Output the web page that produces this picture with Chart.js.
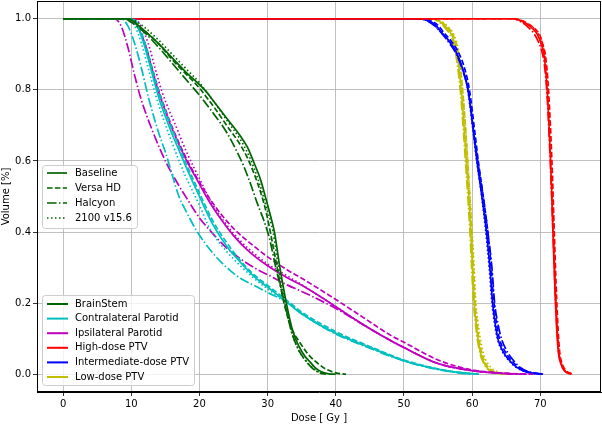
<!DOCTYPE html>
<html>
<head>
<meta charset="utf-8">
<script src="https://cdn.jsdelivr.net/npm/chart.js@4.4.0/dist/chart.umd.min.js"></script>
<style>
  html, body { margin: 0; padding: 0; background: #fff; }
  #wrap { width: 602px; height: 424px; }
</style>
</head>
<body>
<div id="wrap"><canvas id="dvh" width="602" height="424"></canvas></div>
<script>
// Axes
const xTicks = [0, 10, 20, 30, 40, 50, 60, 70];
const yTicks = [0.0, 0.2, 0.4, 0.6, 0.8, 1.0];

// Structures and machines (legend order)
const structures = ['BrainStem', 'Contralateral Parotid', 'Ipsilateral Parotid', 'High-dose PTV', 'Intermediate-dose PTV', 'Low-dose PTV'];
const machines = ['Baseline', 'Versa HD', 'Halcyon', '2100 v15.6'];

// DVH points [dose Gy, volume fraction]
// BrainStem
const bsBase = [[0,1],[9.5,1],[10.5,0.99],[12,0.965],[14,0.93],[16,0.89],[18,0.85],[20,0.815],[21,0.795],[22,0.77],[24,0.72],[26,0.67],[27,0.64],[28,0.595],[29,0.545],[29.8,0.49],[30.5,0.44],[31,0.40],[31.8,0.30],[32.75,0.2],[33.7,0.12],[34.7,0.075],[35.5,0.05],[36.2,0.035],[37,0.018],[38,0.006],[39,0.001],[40,0]];
const bsVersa = [[0,1],[9.5,1],[10.5,0.99],[12,0.965],[14,0.93],[16,0.885],[18,0.845],[20,0.805],[21,0.78],[22,0.755],[24,0.70],[26,0.645],[27,0.61],[28,0.565],[29,0.51],[29.8,0.455],[30.6,0.38],[31.4,0.30],[32.4,0.2],[33.5,0.13],[34.7,0.09],[36,0.055],[37.4,0.03],[38.5,0.015],[40,0.004],[41.5,0]];
const bsHalcyon = [[0,1],[9,1],[10,0.99],[12,0.96],[14,0.92],[16,0.875],[18,0.83],[20,0.785],[21,0.76],[22,0.735],[24,0.68],[25.4,0.63],[26.5,0.585],[27.5,0.535],[28.5,0.48],[29.5,0.43],[30.3,0.38],[31.2,0.3],[32.5,0.2],[33.5,0.12],[34.5,0.07],[35.5,0.04],[36.5,0.018],[37.5,0.005],[38.5,0]];
const bs2100 = [[0,1],[9.5,1],[10.5,0.995],[12,0.975],[14,0.94],[16,0.9],[18,0.86],[20,0.82],[21,0.795],[22,0.77],[24,0.715],[26,0.66],[27,0.625],[28,0.58],[29,0.525],[29.8,0.47],[30.8,0.40],[31.6,0.30],[32.6,0.2],[33.5,0.12],[34.5,0.07],[35.5,0.04],[36.5,0.02],[37.5,0.006],[38.5,0]];
// Contralateral Parotid
const cpBase = [[0,1],[10,1],[11,0.975],[12,0.92],[13,0.85],[14,0.78],[15,0.725],[16,0.675],[17,0.63],[18,0.585],[20,0.5],[22,0.42],[24,0.36],[26,0.315],[28,0.275],[30,0.245],[33,0.2],[35,0.17],[40,0.115],[45,0.075],[50,0.038],[55,0.014],[58,0.005],[61,0]];
const cpVersa = [[0,1],[10.2,1],[11.2,0.975],[12.2,0.92],[13.2,0.85],[14.2,0.785],[15.2,0.73],[16.2,0.68],[18,0.595],[20,0.51],[22,0.43],[24,0.37],[26,0.32],[28,0.28],[30,0.25],[33,0.205],[35,0.175],[40,0.12],[45,0.078],[50,0.04],[55,0.015],[58,0.005],[61,0]];
const cpHalcyon = [[0,1],[8.5,1],[9.5,0.98],[10.5,0.93],[11.5,0.86],[12.5,0.78],[14,0.68],[15,0.625],[17,0.5],[18,0.46],[19.7,0.40],[22,0.34],[24,0.3],[26,0.27],[28,0.25],[30,0.23],[33,0.2],[35,0.17],[40,0.113],[45,0.073],[50,0.037],[55,0.013],[58,0.004],[60,0]];
const cp2100 = [[0,1],[9.5,1],[10.5,0.98],[11.5,0.93],[12.5,0.86],[13.5,0.79],[14.5,0.73],[16,0.65],[18,0.555],[19,0.515],[20,0.475],[21.5,0.41],[24,0.345],[26,0.305],[28,0.27],[30,0.24],[33,0.2],[35,0.17],[40,0.115],[45,0.076],[50,0.038],[55,0.014],[58,0.005],[61,0]];
// Ipsilateral Parotid
const ipBase = [[0,1],[10,1],[11,0.975],[12,0.93],[13,0.86],[14,0.795],[15,0.74],[16,0.69],[18,0.605],[20,0.535],[21.3,0.49],[23,0.44],[25,0.39],[27,0.35],[30,0.305],[33,0.27],[35,0.25],[38,0.215],[40,0.19],[44,0.14],[48,0.095],[50,0.075],[55,0.03],[60,0.01],[65,0.002],[68,0]];
const ipVersa = [[0,1],[10,1],[11,0.975],[12,0.93],[13,0.865],[14,0.8],[15,0.745],[16,0.695],[18,0.61],[20,0.54],[22,0.48],[25,0.41],[28,0.36],[30,0.33],[33,0.292],[35,0.27],[40,0.21],[44,0.16],[48,0.11],[50,0.09],[55,0.04],[60,0.012],[65,0.003],[69,0]];
const ipHalcyon = [[0,1],[7.5,1],[8.5,0.98],[9.5,0.92],[10.5,0.84],[11.5,0.77],[13,0.69],[15,0.6],[17,0.53],[18.3,0.49],[20,0.44],[22,0.395],[24,0.355],[26,0.325],[28,0.3],[30,0.28],[33,0.25],[35,0.233],[40,0.185],[45,0.128],[50,0.075],[55,0.03],[60,0.01],[66,0]];
const ip2100 = [[0,1],[10.5,1],[11.5,0.975],[12.5,0.93],[13.5,0.86],[14.5,0.795],[15.5,0.745],[16.5,0.7],[18,0.63],[20,0.55],[22,0.475],[24,0.42],[26,0.375],[28,0.34],[30,0.31],[33,0.275],[35,0.252],[38,0.215],[40,0.19],[44,0.14],[48,0.095],[50,0.075],[55,0.03],[60,0.01],[65,0.002],[68,0]];
// High-dose PTV
const hdBase = [[0,1],[66,1],[67,0.995],[68,0.985],[69,0.97],[69.6,0.955],[70.2,0.925],[70.6,0.89],[71,0.8],[71.5,0.6],[71.85,0.4],[72.2,0.21],[72.6,0.07],[73,0.03],[73.5,0.01],[74.5,0]];
const hdVersa = [[0,1],[66.3,1],[67.3,0.995],[68.3,0.985],[69.3,0.97],[69.9,0.955],[70.4,0.925],[70.8,0.89],[71.2,0.8],[71.7,0.6],[72.05,0.4],[72.4,0.21],[72.8,0.07],[73.2,0.03],[73.8,0.01],[74.8,0]];
const hdHalcyon = [[0,1],[66,1],[67,0.993],[68,0.98],[69,0.96],[69.6,0.94],[70.2,0.91],[70.6,0.87],[71,0.78],[71.5,0.58],[71.9,0.38],[72.25,0.2],[72.65,0.07],[73.1,0.03],[73.6,0.01],[74.6,0]];
const hd2100 = [[0,1],[66.2,1],[67.2,0.995],[68.2,0.985],[69.2,0.97],[69.8,0.955],[70.3,0.93],[70.7,0.89],[71.1,0.8],[71.6,0.6],[71.95,0.4],[72.3,0.21],[72.7,0.07],[73.1,0.03],[73.6,0.01],[74.6,0]];
// Intermediate-dose PTV
const idBase = [[0,1],[52.5,1],[53.5,0.995],[54.5,0.985],[55.7,0.958],[56.7,0.935],[57.7,0.905],[58.6,0.86],[59.4,0.8],[60.2,0.68],[60.7,0.6],[61.5,0.49],[62.1,0.4],[62.6,0.3],[63,0.2],[63.4,0.14],[63.8,0.098],[64.5,0.065],[65.2,0.045],[66.5,0.02],[68,0.006],[70,0]];
const idVersa = [[0,1],[52.8,1],[53.8,0.995],[54.8,0.985],[56,0.958],[57,0.935],[58,0.905],[58.9,0.86],[59.6,0.8],[60.4,0.68],[60.9,0.6],[61.7,0.49],[62.3,0.4],[62.8,0.3],[63.2,0.2],[63.6,0.14],[64,0.1],[64.8,0.065],[65.5,0.045],[66.8,0.02],[68.3,0.006],[70.3,0]];
const idHalcyon = [[0,1],[52.5,1],[53.5,0.993],[54.5,0.98],[55.7,0.955],[56.7,0.93],[57.7,0.9],[58.6,0.855],[59.5,0.79],[60.3,0.67],[60.9,0.59],[61.7,0.49],[62.3,0.4],[62.9,0.3],[63.3,0.2],[63.8,0.14],[64.3,0.1],[65.1,0.065],[65.8,0.045],[67,0.02],[68.5,0.006],[70.5,0]];
const id2100 = [[0,1],[52.3,1],[53.3,0.995],[54.3,0.985],[55.5,0.96],[56.5,0.94],[57.5,0.91],[58.5,0.865],[59.3,0.805],[60.1,0.69],[60.6,0.61],[61.4,0.5],[62,0.4],[62.5,0.3],[62.9,0.2],[63.3,0.14],[63.7,0.1],[64.4,0.065],[65.1,0.045],[66.4,0.02],[67.9,0.006],[69.8,0]];
// Low-dose PTV
const ldBase = [[0,1],[54,1],[55,0.995],[56,0.98],[57,0.955],[57.7,0.91],[58.4,0.8],[58.8,0.7],[59.15,0.6],[59.5,0.5],[59.8,0.4],[60.05,0.3],[60.3,0.2],[60.6,0.14],[60.85,0.1],[61.3,0.055],[61.8,0.03],[62.5,0.012],[64,0.002],[65,0]];
const ldVersa = [[0,1],[54.2,1],[55.2,0.995],[56.2,0.98],[57.2,0.955],[57.9,0.91],[58.6,0.8],[59,0.7],[59.35,0.6],[59.65,0.5],[59.95,0.4],[60.2,0.3],[60.45,0.2],[60.75,0.14],[61,0.1],[61.5,0.055],[62,0.03],[62.8,0.012],[64.3,0.002],[65.5,0]];
const ldHalcyon = [[0,1],[54,1],[55,0.993],[56,0.975],[57,0.945],[57.6,0.9],[58.3,0.79],[58.7,0.69],[59.05,0.59],[59.4,0.49],[59.7,0.39],[59.95,0.29],[60.2,0.2],[60.5,0.14],[60.75,0.1],[61.2,0.055],[61.7,0.03],[62.4,0.012],[63.8,0.002],[64.8,0]];
const ld2100 = [[0,1],[54.3,1],[55.3,0.995],[56.3,0.98],[57.3,0.955],[58,0.91],[58.6,0.8],[59,0.7],[59.35,0.6],[59.7,0.5],[60,0.4],[60.3,0.3],[60.55,0.2],[60.9,0.14],[61.2,0.1],[61.7,0.055],[62.3,0.03],[63.2,0.012],[65,0.002],[66.5,0]];

const curves = [
    [bsBase, bsVersa, bsHalcyon, bs2100],
    [cpBase, cpVersa, cpHalcyon, cp2100],
    [ipBase, ipVersa, ipHalcyon, ip2100],
    [hdBase, hdVersa, hdHalcyon, hd2100],
    [idBase, idVersa, idHalcyon, id2100],
    [ldBase, ldVersa, ldHalcyon, ld2100]
];

const colors = ['#006400', '#00bfbf', '#bf00bf', '#ff0000', '#0000ff', '#bfbf00'];
const dashes = [[], [5.5, 2.4], [9.6, 2.4, 1.5, 2.4], [1.5, 2.5]];

const font = { family: 'DejaVu Sans', size: 10 };

// Build datasets
const datasets = [];
curves.forEach((set, s) => {
    set.forEach((pts, m) => {
        datasets.push({
            label: structures[s] + ' ' + machines[m],
            data: pts.map(p => ({ x: p[0], y: p[1] })),
            borderColor: colors[s],
            borderWidth: 1.7,
            borderDash: dashes[m],
            pointRadius: 0,
            showLine: true,
            fill: false,
            cubicInterpolationMode: 'monotone'
        });
    });
});

// Two matplotlib-like legend boxes + top/right spines
const legendBoxes = {
    id: 'legendBoxes',
    afterDraw(chart) {
        const ctx = chart.ctx;
        const a = chart.chartArea;
        ctx.save();
        ctx.strokeStyle = '#000';
        ctx.lineWidth = 1;
        ctx.strokeRect(a.left + 0.5, a.top + 0.5, a.right - a.left - 1, a.bottom - a.top - 1);

        function box(x, y, w, h) {
            ctx.beginPath();
            ctx.roundRect(x + 0.5, y + 0.5, w, h, 3);
            ctx.fillStyle = 'rgba(255,255,255,0.8)';
            ctx.fill();
            ctx.strokeStyle = '#cccccc';
            ctx.lineWidth = 1;
            ctx.stroke();
        }
        ctx.font = '10px "DejaVu Sans"';
        ctx.textBaseline = 'middle';

        // Line style legend
        box(42, 165, 95, 63);
        machines.forEach((name, i) => {
            const y = 173 + i * 15;
            ctx.beginPath();
            ctx.setLineDash(dashes[i]);
            ctx.strokeStyle = colors[0];
            ctx.lineWidth = 1.7;
            ctx.moveTo(47, y);
            ctx.lineTo(67, y);
            ctx.stroke();
            ctx.setLineDash([]);
            ctx.fillStyle = '#000';
            ctx.fillText(name, 75, y);
        });

        // Structure legend
        box(42, 295, 152, 90);
        structures.forEach((name, i) => {
            const y = 304 + i * 14.6;
            ctx.beginPath();
            ctx.strokeStyle = colors[i];
            ctx.lineWidth = 2;
            ctx.moveTo(47, y);
            ctx.lineTo(68, y);
            ctx.stroke();
            ctx.fillStyle = '#000';
            ctx.fillText(name, 75, y);
        });
        ctx.restore();
    }
};

new Chart(document.getElementById('dvh'), {
    type: 'scatter',
    data: { datasets: datasets },
    options: {
        responsive: false,
        devicePixelRatio: 1,
        animation: false,
        layout: { padding: { top: 1, right: 1, left: 0, bottom: 0 } },
        plugins: {
            legend: { display: false },
            tooltip: { enabled: false }
        },
        scales: {
            x: {
                type: 'linear',
                min: -3.83,
                max: 78.9,
                afterBuildTicks: axis => { axis.ticks = xTicks.map(v => ({ value: v })); },
                afterFit: axis => { axis.height = 32; axis.paddingLeft = 0; axis.paddingRight = 0; },
                ticks: { color: '#000', font: font, padding: 2, maxRotation: 0 },
                grid: { color: '#b0b0b0', lineWidth: 0.8, tickColor: '#000', tickLength: 4 },
                border: { display: true, color: '#000', width: 1 },
                title: { display: true, text: 'Dose [ Gy ]', color: '#000', font: font, padding: { top: 0, bottom: 0 } }
            },
            y: {
                type: 'linear',
                min: -0.05,
                max: 1.05,
                afterBuildTicks: axis => { axis.ticks = yTicks.map(v => ({ value: v })); },
                afterFit: axis => { axis.width = 37; axis.paddingTop = 0; axis.paddingBottom = 0; },
                ticks: { color: '#000', font: font, padding: 2, callback: v => v.toFixed(1) },
                grid: { color: '#b0b0b0', lineWidth: 0.8, tickColor: '#000', tickLength: 4 },
                border: { display: true, color: '#000', width: 1 },
                title: { display: true, text: 'Volume [%]', color: '#000', font: font, padding: { top: 0, bottom: 0 } }
            }
        }
    },
    plugins: [legendBoxes]
});
</script>
</body>
</html>
